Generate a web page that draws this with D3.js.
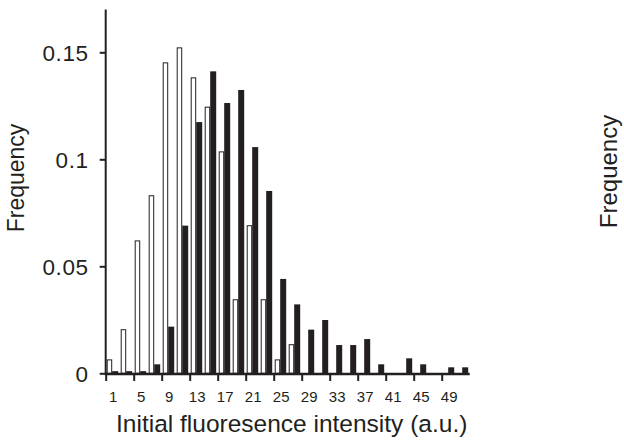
<!DOCTYPE html>
<html>
<head>
<meta charset="utf-8">
<script src="https://cdn.jsdelivr.net/npm/d3@7"></script>
<style>
  html, body { margin: 0; padding: 0; background: #fff; }
  svg { display: block; font-family: "Liberation Sans", Arial, Helvetica, sans-serif; }
</style>
</head>
<body>
<svg id="chart" width="624" height="443"></svg>
<script>
// Histogram bins (lower edge of each 2-unit intensity bin)
const bins = [1, 3, 5, 7, 9, 11, 13, 15, 17, 19, 21, 23, 25, 27, 29, 31, 33, 35, 37, 39, 41, 43, 45, 47, 49, 51];

// Frequency per bin, open (white) series
const openFreq = [0.0065, 0.0206, 0.0621, 0.0832, 0.1453, 0.1523, 0.1383, 0.1246, 0.1037, 0.0346,
                  0.0692, 0.0346, 0.0065, 0.0136, 0, 0, 0, 0, 0, 0,
                  0, 0, 0, 0, 0, 0];

// Frequency per bin, filled (black) series
const filledFreq = [0.001, 0.001, 0.001, 0.0042, 0.0218, 0.069, 0.1174, 0.1411, 0.1263, 0.1324,
                    0.1057, 0.0852, 0.0441, 0.0322, 0.0204, 0.0249, 0.0132, 0.0132, 0.016, 0.0042,
                    0, 0.007, 0.0042, 0, 0.0028, 0.0028];

const xTicks = [1, 5, 9, 13, 17, 21, 25, 29, 33, 37, 41, 45, 49];
const yTicks = [0, 0.05, 0.1, 0.15];

const ink = "#231f20";
const svg = d3.select("#chart");

const x = d3.scaleLinear().domain([1, 53]).range([105.7, 469.7]);
const y = d3.scaleLinear().domain([0, 0.17]).range([373.3, 9.5]);
const unit = x(2) - x(1);

// Open bars (outlined)
svg.append("g").selectAll("rect")
  .data(bins.map((b, i) => ({ b, v: openFreq[i] })).filter(d => d.v > 0))
  .join("rect")
  .attr("x", d => x(d.b) + 1.5)
  .attr("width", 4.5)
  .attr("y", d => y(d.v) + 0.5)
  .attr("height", d => Math.max(0, y(0) - y(d.v) - 0.5))
  .attr("fill", "#fff")
  .attr("stroke", ink)
  .attr("stroke-width", 1);

// Filled bars
svg.append("g").selectAll("rect")
  .data(bins.map((b, i) => ({ b, v: filledFreq[i] })).filter(d => d.v > 0))
  .join("rect")
  .attr("x", d => x(d.b) + 6.5)
  .attr("width", 6)
  .attr("y", d => y(d.v))
  .attr("height", d => y(0) - y(d.v))
  .attr("fill", ink);

// Y axis
const yAxis = svg.append("g")
  .attr("transform", `translate(${x(1)},0)`)
  .call(d3.axisLeft(y).tickValues(yTicks).tickSize(6).tickSizeOuter(0)
    .tickFormat(d => d === 0 ? "0" : String(+d.toFixed(2))));
yAxis.select(".domain").remove();
yAxis.append("line")
  .attr("x1", 0).attr("x2", 0)
  .attr("y1", y(0) + 1).attr("y2", y.range()[1])
  .attr("stroke", ink).attr("stroke-width", 2);
yAxis.selectAll(".tick line").attr("stroke", ink).attr("stroke-width", 2);
yAxis.selectAll(".tick text")
  .attr("x", -17)
  .attr("dy", "0.36em")
  .attr("fill", ink)
  .style("font-size", "22.5px")
  .style("letter-spacing", "0.6px")
  .style("font-family", "'Liberation Sans', Arial, sans-serif");

// X axis
const xAxis = svg.append("g")
  .attr("transform", `translate(0,${y(0) + 0.7})`)
  .call(d3.axisBottom(x).tickValues(xTicks).tickSize(7).tickSizeOuter(0).tickFormat(d3.format("d")));
xAxis.select(".domain").remove();
xAxis.append("line")
  .attr("x1", x(1) - 1).attr("x2", x(53))
  .attr("y1", 0).attr("y2", 0)
  .attr("stroke", ink).attr("stroke-width", 2.4);
xAxis.selectAll(".tick line").attr("stroke", ink).attr("stroke-width", 2);
xAxis.selectAll(".tick text")
  .attr("x", unit)
  .attr("y", 27.5)
  .attr("dy", 0)
  .attr("fill", ink)
  .style("font-size", "15px")
  .style("font-family", "'Liberation Sans', Arial, sans-serif");

// Axis titles
svg.append("text")
  .attr("x", (x(1) + x(53)) / 2 + 4)
  .attr("y", 432)
  .attr("text-anchor", "middle")
  .attr("fill", ink)
  .style("font-size", "24.5px")
  .text("Initial fluoresence intensity (a.u.)");

svg.append("text")
  .attr("transform", "translate(23.5,178) rotate(-90)")
  .attr("text-anchor", "middle")
  .attr("fill", ink)
  .style("font-size", "23px")
  .text("Frequency");

// Title of the neighbouring panel's axis, cut by the right edge
svg.append("text")
  .attr("transform", "translate(617,171.5) rotate(-90)")
  .attr("text-anchor", "middle")
  .attr("fill", ink)
  .style("font-size", "24px")
  .text("Frequency");
</script>
</body>
</html>
